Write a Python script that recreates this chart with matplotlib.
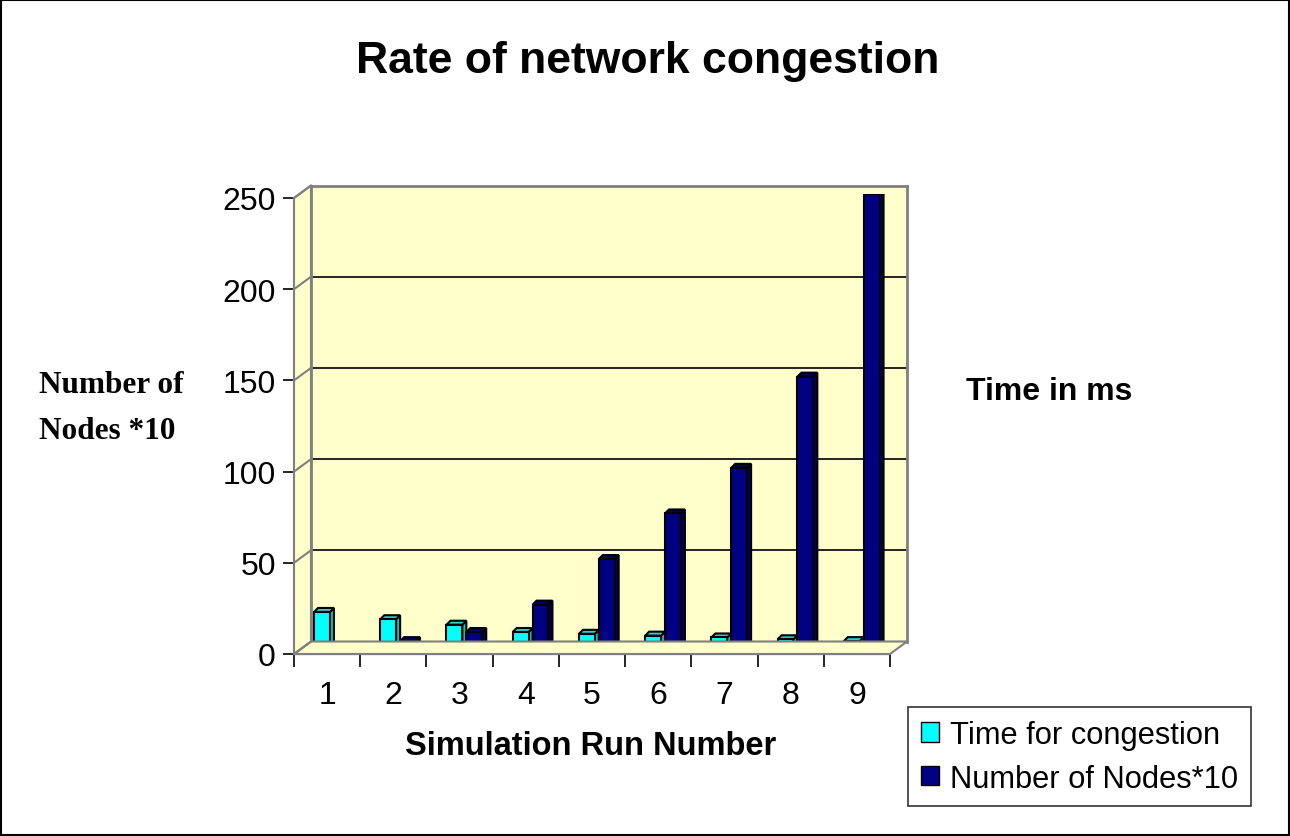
import matplotlib
matplotlib.use('Agg')
import matplotlib.pyplot as plt
import numpy as np
from matplotlib.patches import Polygon, Rectangle
from matplotlib.lines import Line2D

# Chart data
runs = ['1', '2', '3', '4', '5', '6', '7', '8', '9']
time_congestion = [21, 17, 14, 10, 9, 8, 7, 6, 5]
nodes_x10 = [1, 5, 10, 25, 50, 75, 100, 150, 250]
y_ticks = [0, 50, 100, 150, 200, 250]

W, H = 1290, 837
fig = plt.figure(figsize=(W / 100, H / 100), dpi=100)
fig.patch.set_facecolor('white')

def fx(x):
    return x / W

def fy(y):
    return 1 - y / H

wall = '#FFFFCC'
edge_gray = '#808080'
cyan = '#00FFFF'
navy = '#000080'

# pixel geometry of the fake 3D box
fl, fr, fb, ft = 294, 890, 655, 199     # front plane
dx, dy = 17, 12.5                        # depth offset to back wall
ymax = 250

def ypix(v, depth=0.0):
    return fb - (fb - ft) * v / ymax - dy * depth

# back wall axes
ax_back = fig.add_axes([fx(fl + dx), fy(fb - dy), fx(fr - fl), (fb - ft) / H])
ax_back.set_facecolor(wall)
ax_back.set_xlim(0.5, 9.5)
ax_back.set_ylim(0, ymax)
ax_back.set_xticks([])
ax_back.set_yticks([])
for v in y_ticks[1:-1]:
    ax_back.axhline(v, color='black', lw=1.2, zorder=1)
for s in ax_back.spines.values():
    s.set_color(edge_gray)
    s.set_linewidth(2)
ax_back.spines['bottom'].set_linewidth(1.2)

# floor and left side wall, drawn in figure pixels
floor = [(fl, fb), (fr, fb), (fr + dx, fb - dy), (fl + dx, fb - dy)]
side = [(fl, fb), (fl + dx, fb - dy), (fl + dx, ft - dy), (fl, ft)]
for poly in (floor, side):
    fig.patches.append(Polygon([(fx(a), fy(b)) for a, b in poly], closed=True,
                               transform=fig.transFigure, facecolor=wall,
                               edgecolor=edge_gray, lw=1.5, zorder=0.5))
# diagonal lines on the side wall at each tick level
for v in y_ticks:
    fig.add_artist(Line2D([fx(fl), fx(fl + dx)], [fy(ypix(v)), fy(ypix(v, 1))],
                          color=edge_gray, lw=1.5, transform=fig.transFigure))

# bars sit part way into the box
ax_bar = fig.add_axes([fx(fl + dx * 0.4), fy(fb - dy * 0.3), fx(fr - fl), (fb - ft) / H])
ax_bar.patch.set_visible(False)
ax_bar.set_xlim(0.5, 9.5)
ax_bar.set_ylim(0, ymax)
ax_bar.axis('off')
x = np.arange(1, len(runs) + 1)
bw = 0.3
# depth of each bar, in data units of ax_bar
ddx = 4 * 9 / (fr - fl)
ddy = 4 * ymax / (fb - ft)

def bar3d(xc, h, face, top, side_c):
    x0, x1 = xc - bw / 2, xc + bw / 2 - ddx
    ax_bar.add_patch(Polygon([(x1, 0), (x1 + ddx, ddy), (x1 + ddx, h + ddy), (x1, h)],
                             closed=True, facecolor=side_c, edgecolor='black', lw=1.5))
    ax_bar.add_patch(Polygon([(x0, h), (x1, h), (x1 + ddx, h + ddy), (x0 + ddx, h + ddy)],
                             closed=True, facecolor=top, edgecolor='black', lw=1.5))
    ax_bar.add_patch(Rectangle((x0, 0), x1 - x0, h, facecolor=face,
                               edgecolor='black', lw=1.5))

for xi, t, n in zip(x, time_congestion, nodes_x10):
    bar3d(xi - bw / 2, t, cyan, '#33CCCC', '#00CCCC')
    bar3d(xi + bw / 2, n, navy, '#000060', '#000066')

# front axes with the ticks
ax = fig.add_axes([fx(fl), fy(fb), fx(fr - fl), (fb - ft) / H])
ax.patch.set_visible(False)
ax.set_xlim(0.5, 9.5)
ax.set_ylim(0, ymax)
ax.spines['top'].set_visible(False)
ax.spines['right'].set_visible(False)
ax.spines['left'].set_color('black')
ax.spines['bottom'].set_color('black')
ax.set_yticks(y_ticks)
ax.set_xticks(np.arange(0.5, 10, 1), minor=False)
ax.set_xticklabels([])
ax.set_xticks(x, minor=True)
ax.set_xticklabels(runs, minor=True)
ax.tick_params(axis='x', which='major', length=9, width=1.2, direction='out')
ax.tick_params(axis='x', which='minor', length=0, pad=19, labelsize=23)
ax.tick_params(axis='y', length=8, width=1.2, direction='out', labelsize=23, pad=5)
for lab in ax.get_xticklabels(minor=True) + ax.get_yticklabels():
    lab.set_fontfamily('Liberation Sans')

# texts
fig.text(fx(648), fy(62), 'Rate of network congestion', ha='center', va='center',
         fontsize=32, fontweight='bold', family='Liberation Sans')
fig.text(fx(39), fy(386), 'Number of', ha='left', va='center', fontsize=22.5,
         fontweight='bold', family='Liberation Serif')
fig.text(fx(39), fy(432), 'Nodes *10', ha='left', va='center', fontsize=22.5,
         fontweight='bold', family='Liberation Serif')
fig.text(fx(966), fy(392), 'Time in ms', ha='left', va='center', fontsize=23,
         fontweight='bold', family='Liberation Sans')
fig.text(fx(591), fy(747), 'Simulation Run Number', ha='center', va='center',
         fontsize=23.5, fontweight='bold', family='Liberation Sans')

# legend box
handles = [Rectangle((0, 0), 1, 1, facecolor=cyan, edgecolor='black', lw=1),
           Rectangle((0, 0), 1, 1, facecolor=navy, edgecolor='black', lw=1)]
leg = fig.legend(handles, ['Time for congestion', 'Number of Nodes*10'],
                 loc='upper left', bbox_to_anchor=(fx(908), fy(708)),
                 frameon=True, fancybox=False, edgecolor='black',
                 prop={'family': 'Liberation Sans', 'size': 22.2},
                 handlelength=0.6, handleheight=0.6, handletextpad=0.35,
                 labelspacing=0.44, borderpad=0.42, borderaxespad=0)
leg.get_frame().set_linewidth(1.2)

# outer border of the chart
fig.patches.append(Rectangle((0.001, 0.001), 0.998, 0.998, transform=fig.transFigure,
                             fill=False, edgecolor='black', lw=1.5))

fig.savefig('out.png', dpi=100)
